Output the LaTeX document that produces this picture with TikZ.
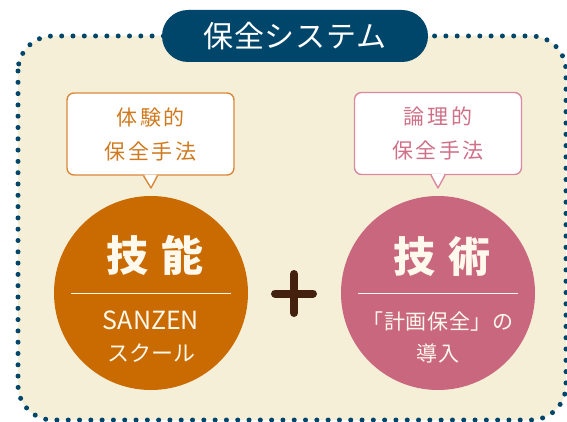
\documentclass[tikz,border=0pt]{standalone}
\usepackage{fontspec}
\usetikzlibrary{calc}
\newfontfamily\jp{Noto Sans CJK JP}
\newfontfamily\jptitle[LetterSpace=3]{Noto Sans CJK JP}
\newfontfamily\jpcall[LetterSpace=12]{Noto Sans CJK JP}
\newfontfamily\jpbig[LetterSpace=30]{Noto Sans CJK JP}
\newfontfamily\jpsub[LetterSpace=3]{Noto Sans CJK JP}
\definecolor{cream}{RGB}{246,239,216}
\definecolor{navy}{RGB}{0,70,106}
\definecolor{ochre}{RGB}{201,107,0}
\definecolor{rose}{RGB}{201,103,127}
\definecolor{brownx}{RGB}{68,33,15}
\definecolor{ochretxt}{RGB}{207,122,31}
\definecolor{ochreline}{RGB}{217,136,58}
\definecolor{rosetxt}{RGB}{207,112,136}
\definecolor{roseline}{RGB}{217,138,160}
\definecolor{paper}{RGB}{255,248,236}
\begin{document}
\begin{tikzpicture}[x=1pt,y=-1pt,
  framedots/.style={draw=navy,line width=5pt,line cap=round,dash pattern=on 0pt off 11.3pt,rounded corners=35pt},
  pill/.style={fill=navy,text=white,rounded corners=26pt,minimum width=266pt,minimum height=52pt,inner sep=0pt,font=\jptitle\fontsize{30}{30}\selectfont},
  callout/.style={fill=white,line width=1.4pt,rounded corners=7pt,minimum width=167pt,minimum height=82pt,inner sep=0pt,align=center,font=\jpcall\fontsize{21}{34}\selectfont},
  bigdisc/.style={circle,minimum size=194pt,inner sep=0pt},
  headtxt/.style={text=paper,inner sep=0pt,font=\jpbig\bfseries\fontsize{42}{42}\selectfont},
  subtxt/.style={text=paper,inner sep=0pt,align=center,font=\jpsub\fontsize{21}{33}\selectfont},
  divider/.style={draw=paper,line width=1pt},
  plusline/.style={draw=brownx,line width=8pt,line cap=round}]
\useasboundingbox (0,0) rectangle (567,422);
\fill[white] (0,0) rectangle (567,422);
\fill[cream,rounded corners=35pt] (18,36) rectangle (566,420);
\draw[framedots] (18,36) rectangle (566,420);
\node[pill] (title) at (295,36) {保全システム};
% callouts
\node[callout,draw=ochreline,text=ochretxt] (c1) at (150.5,134) {体験的\\保全手法};
\coordinate (t1) at (151,188);
\fill[white] ($(c1.south)+(-6.2,-1)$) -- (t1) -- ($(c1.south)+(6.2,-1)$) -- cycle;
\draw[ochreline,line width=1.4pt,line join=round] ($(c1.south)+(-7,0)$) -- (t1) -- ($(c1.south)+(7,0)$);
\node[callout,draw=roseline,text=rosetxt] (c2) at (438,133.5) {論理的\\保全手法};
\coordinate (t2) at (438,188);
\fill[white] ($(c2.south)+(-6.2,-1)$) -- (t2) -- ($(c2.south)+(6.2,-1)$) -- cycle;
\draw[roseline,line width=1.4pt,line join=round] ($(c2.south)+(-7,0)$) -- (t2) -- ($(c2.south)+(7,0)$);
% circles
\node[bigdisc,fill=ochre] (skill) at (151,293) {};
\node[headtxt] (skillT) at ($(skill.center)+(4,-38)$) {技能};
\draw[divider] ($(skill.center)+(-80,0)$) -- ($(skill.center)+(80,0)$);
\node[subtxt,font=\jp\fontsize{25}{25}\selectfont] (skillA) at ($(skill.center)+(0,27)$) {SANZEN};
\node[subtxt,font=\jp\fontsize{22}{22}\selectfont] (skillB) at ($(skill.center)+(0,60)$) {スクール};
\node[bigdisc,fill=rose] (tech) at (438,293) {};
\node[headtxt] (techT) at ($(tech.center)+(4,-36)$) {技術};
\draw[divider] ($(tech.center)+(-80,0)$) -- ($(tech.center)+(80,0)$);
\node[subtxt] (techA) at ($(tech.center)+(0,29)$) {「計画保全」の};
\node[subtxt] (techB) at ($(tech.center)+(0,60)$) {導入};
% plus
\node[inner sep=0pt] (plus) at (294,293.5) {};
\draw[plusline] ($(plus)+(-19,0)$) -- ($(plus)+(19,0)$);
\draw[plusline] ($(plus)+(0,-19.5)$) -- ($(plus)+(0,19.5)$);
\end{tikzpicture}
\end{document}
